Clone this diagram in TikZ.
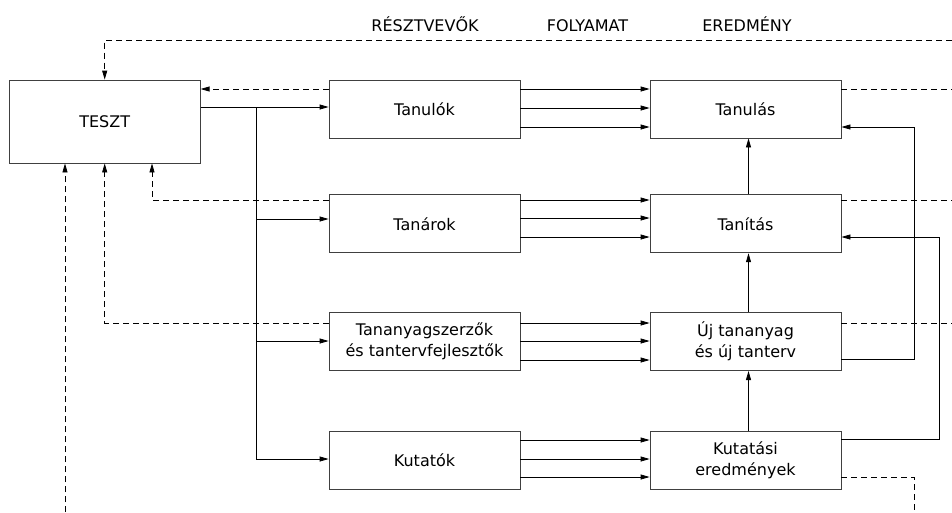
\documentclass[tikz,border=0pt]{standalone}
\usepackage{fontspec}
\setmainfont{DejaVu Sans}
\usetikzlibrary{arrows.meta,positioning}

\begin{document}
\begin{tikzpicture}[x=1pt, y=-1pt, node distance=130pt, font=\fontsize{16}{21}\selectfont]
    \tikzstyle{block} = [rectangle, draw=black!75, line width=0.8pt, minimum width=191pt, minimum height=58pt, align=center, inner sep=2pt]
    \tikzstyle{head} = [anchor=base, inner sep=0pt]
    \tikzstyle{line} = [draw, line width=0.8pt, -{Triangle[length=9pt,width=5pt]}]
    \tikzstyle{dline} = [line, dash pattern=on 6pt off 4pt]
    \tikzstyle{dplain} = [draw, line width=0.8pt, dash pattern=on 6pt off 4pt]

    \useasboundingbox (0,0) rectangle (952,512);

    % fejlec
    \node [head] (resztvevok) at (425,31) {RÉSZTVEVŐK};
    \node [head] (folyamat) at (587.5,31) {FOLYAMAT};
    \node [head] (eredmeny) at (747,31) {EREDMÉNY};

    % dobozok
    \node [block] (tanulok) at (424.5,109) {Tanulók};
    \node [block, left=128pt of tanulok.north west, anchor=north east, minimum height=83pt] (teszt) {TESZT};
    \node [block, right of=tanulok, xshift=191pt] (tanulas) {Tanulás};
    \node [block, below=56pt of tanulok] (tanarok) {Tanárok};
    \node [block, right of=tanarok, xshift=191pt] (tanitas) {Tanítás};
    \node [block, below=59pt of tanarok] (szerzok) {Tananyagszerzők\\és tantervfejlesztők};
    \node [block, right of=szerzok, xshift=191pt] (ujanyag) {Új tananyag\\és új tanterv};
    \node [block, below=60pt of szerzok] (kutatok) {Kutatók};
    \node [block, right of=kutatok, xshift=191pt] (kutatasi) {Kutatási\\eredmények};

    % segedpontok
    \coordinate (elag) at (256,107);
    \coordinate (jobbszel) at (952,0);
    \coordinate (alsoszel) at (0,512);
    \coordinate (vissza1) at (914,0);
    \coordinate (vissza2) at (939,0);

    % teszt -> resztvevok
    \path [line] (teszt.east |- elag) -- (tanulok.west |- elag);
    \path [line] (elag) |- (kutatok.west |- 0,459);
    \path [line] (elag |- 0,219) -- (tanarok.west |- 0,219);
    \path [line] (elag |- 0,341) -- (szerzok.west |- 0,341);

    % resztvevok -> folyamat
    \foreach \y in {89,108,127} \path [line] (tanulok.east |- 0,\y) -- (tanulas.west |- 0,\y);
    \foreach \y in {200,218,237} \path [line] (tanarok.east |- 0,\y) -- (tanitas.west |- 0,\y);
    \foreach \y in {323,341,360} \path [line] (szerzok.east |- 0,\y) -- (ujanyag.west |- 0,\y);
    \foreach \y in {440,459,477} \path [line] (kutatok.east |- 0,\y) -- (kutatasi.west |- 0,\y);

    % felfele
    \path [line] ([xshift=3pt]tanitas.north) -- ([xshift=3pt]tanulas.south);
    \path [line] ([xshift=3pt]ujanyag.north) -- ([xshift=3pt]tanitas.south);
    \path [line] ([xshift=3pt]kutatasi.north) -- ([xshift=3pt]ujanyag.south);
    \path [line] (ujanyag.east |- 0,359) -| (vissza1 |- 0,127) -- (tanulas.east |- 0,127);
    \path [line] (kutatasi.east |- 0,439) -| (vissza2 |- 0,237) -- (tanitas.east |- 0,237);

    % visszacsatolas (szaggatott)
    \path [dline] (jobbszel |- 0,40) -| (teszt.north |- 0,40) -- (teszt.north);
    \path [dline] (tanulok.west |- 0,89) -- (teszt.east |- 0,89);
    \path [dline] (tanarok.west |- 0,200) -| (152,0 |- teszt.south);
    \path [dline] (szerzok.west |- 0,323) -| (teszt.south);
    \path [dline] (alsoszel -| 65,0) -- (65,0 |- teszt.south);
    \path [dplain] (tanulas.east |- 0,89) -- (jobbszel |- 0,89);
    \path [dplain] (tanitas.east |- 0,200) -- (jobbszel |- 0,200);
    \path [dplain] (ujanyag.east |- 0,323) -- (jobbszel |- 0,323);
    \path [dplain] (kutatasi.east |- 0,477) -| (vissza1 |- alsoszel);
\end{tikzpicture}
\end{document}
